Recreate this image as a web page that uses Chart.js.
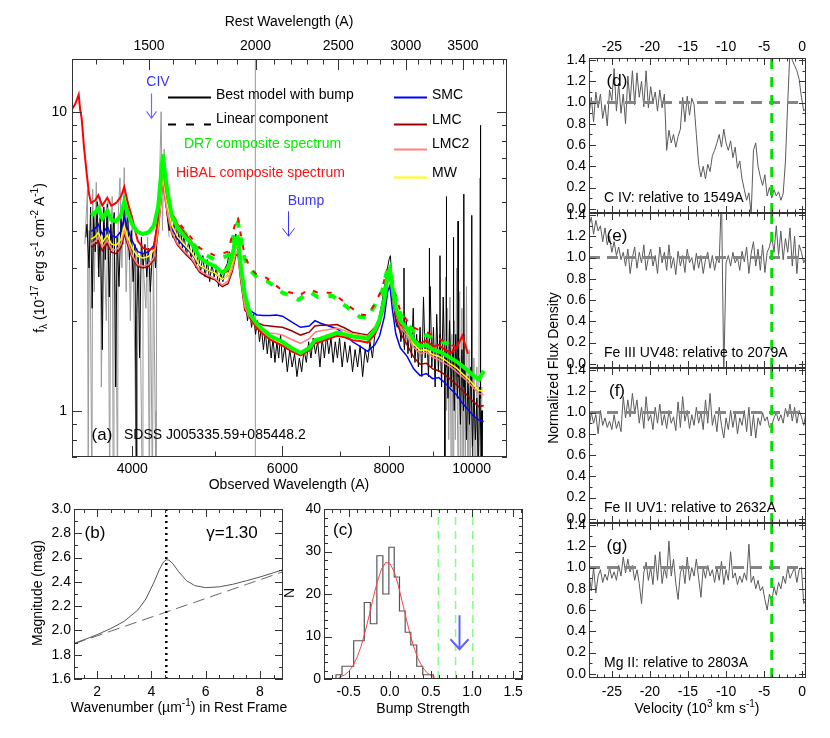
<!DOCTYPE html>
<html>
<head>
<meta charset="utf-8">
<title>SDSS J005335.59+085448.2</title>
<script src="https://cdn.jsdelivr.net/npm/chart.js@4.4.1/dist/chart.umd.min.js"></script>
<style>
  html, body { margin: 0; padding: 0; background: #fff; }
  body { position: relative; width: 830px; height: 738px; overflow: hidden; font-family: 'Liberation Sans', Arial, sans-serif; }
  canvas { position: absolute; }
  #fluxLabel { position: absolute; left: 443px; top: 360px; width: 220px; height: 16px; line-height: 16px; font-size: 14px; text-align: center; transform: rotate(-90deg); color: #000; }
</style>
</head>
<body>
<canvas id="panelA" width="540" height="500" style="left:0;top:0;width:540px;height:500px"></canvas>
<canvas id="panelB" width="290" height="248" style="left:0;top:490px;width:290px;height:248px"></canvas>
<canvas id="panelC" width="270" height="248" style="left:270px;top:490px;width:270px;height:248px"></canvas>
<canvas id="panelD" width="290" height="225" style="left:540px;top:0;width:290px;height:225px"></canvas>
<canvas id="panelE" width="290" height="180" style="left:540px;top:200px;width:290px;height:180px"></canvas>
<canvas id="panelF" width="290" height="180" style="left:540px;top:355px;width:290px;height:180px"></canvas>
<canvas id="panelG" width="290" height="228" style="left:540px;top:510px;width:290px;height:228px"></canvas>
<div id="fluxLabel">Normalized Flux Density</div>
<script>
// ---------- panel (a): spectrum ----------
const restFactor = 2.79;
const obsTicks = [4000, 6000, 8000, 10000];
const obsMinor = [5000, 7000, 9000];
const restTicks = [1500, 2000, 2500, 3000, 3500];
const restMinor = [1300, 1400, 1600, 1700, 1800, 1900, 2100, 2200, 2300, 2400, 2600, 2700, 2800, 2900, 3100, 3200, 3300, 3400, 3600, 3700, 3800, 3900];
const fluxTicks = [1, 10];
const fluxMinor = [0.7, 0.8, 0.9, 2, 3, 4, 5, 6, 7, 8, 9];

const modelWave = [
  3580, 3620, 3650, 3690, 3740, 3780, 3830, 3880, 3915, 3950,
  4000, 4060, 4120, 4180, 4240, 4290, 4320, 4345, 4370, 4400,
  4450, 4520, 4600, 4700, 4800, 4900, 5000, 5100, 5180, 5240,
  5290, 5320, 5360, 5420, 5500, 5600, 5700, 5800, 5900, 6000,
  6150, 6300, 6450, 6550, 6650, 6800, 6950, 7100, 7250, 7400,
  7550, 7700, 7800, 7900, 7970, 8020, 8070, 8150, 8250, 8400,
  8550, 8700, 8850, 9000, 9150, 9300, 9450, 9600, 9750, 9900,
  10050, 10200, 10330];
const dr7Flux = [
  4.50, 4.60, 4.75, 4.40, 4.65, 4.35, 4.30, 4.50, 5.00, 4.60,
  4.20, 3.95, 3.90, 3.95, 4.15, 4.80, 6.00, 7.20, 6.20, 5.40,
  4.50, 4.10, 3.85, 3.60, 3.25, 3.12, 3.04, 2.89, 3.00, 3.30,
  3.75, 3.80, 3.10, 2.45, 2.10, 1.95, 1.86, 1.78, 1.74, 1.70,
  1.62, 1.56, 1.62, 1.72, 1.74, 1.78, 1.82, 1.80, 1.77, 1.76,
  1.74, 1.86, 2.02, 2.35, 2.85, 2.98, 2.60, 2.20, 2.00, 1.88,
  1.72, 1.64, 1.66, 1.60, 1.58, 1.54, 1.50, 1.46, 1.41, 1.36,
  1.31, 1.27, 1.36];
const hibalFlux = [
  4.95, 5.05, 5.25, 4.85, 5.15, 4.85, 4.95, 5.20, 5.60, 5.00,
  4.40, 3.70, 3.50, 3.45, 3.50, 4.40, 5.60, 6.75, 5.80, 5.10,
  4.55, 4.20, 3.95, 3.65, 3.28, 3.13, 3.04, 2.89, 2.93, 3.22,
  3.65, 3.70, 3.02, 2.38, 2.04, 1.89, 1.80, 1.73, 1.69, 1.65,
  1.58, 1.53, 1.59, 1.68, 1.70, 1.74, 1.78, 1.76, 1.72, 1.71,
  1.69, 1.80, 1.95, 2.27, 2.75, 2.86, 2.50, 2.12, 1.94, 1.86,
  1.74, 1.68, 1.72, 1.64, 1.66, 1.60, 1.56, 1.62, 1.78, 1.55,
  null, null, null];
const hibalBlue = [[3400, 10.2], [3430, 10.6], [3462, 11.4], [3475, 10.2], [3490, 9.5], [3512, 7.6], [3540, 6.1], [3560, 5.3]];
const smcFlux = [
  3.98, 4.07, 4.20, 3.89, 4.12, 3.85, 3.80, 3.98, 4.43, 4.07,
  3.70, 3.40, 3.35, 3.40, 3.57, 4.30, 5.40, 6.50, 5.55, 4.85,
  4.10, 3.75, 3.55, 3.34, 3.05, 2.95, 2.89, 2.75, 2.83, 3.12,
  3.53, 3.58, 2.93, 2.33, 2.16, 2.09, 2.08, 2.08, 2.09, 2.07,
  1.98, 1.90, 1.92, 2.00, 1.96, 1.92, 1.88, 1.80, 1.70, 1.64,
  1.58, 1.66, 1.78, 2.06, 2.50, 2.62, 2.20, 1.80, 1.62, 1.52,
  1.38, 1.31, 1.33, 1.28, 1.29, 1.24, 1.18, 1.13, 1.06, 1.01,
  0.96, 0.93, 0.92];
const lmcFlux = [
  3.52, 3.59, 3.70, 3.43, 3.63, 3.39, 3.35, 3.51, 3.90, 3.59,
  3.25, 3.04, 3.00, 3.04, 3.20, 3.95, 4.95, 6.00, 5.15, 4.50,
  3.92, 3.58, 3.38, 3.18, 2.90, 2.80, 2.74, 2.60, 2.66, 2.92,
  3.30, 3.35, 2.74, 2.17, 2.06, 1.97, 1.93, 1.92, 1.91, 1.90,
  1.85, 1.79, 1.83, 1.92, 1.93, 1.93, 1.94, 1.89, 1.83, 1.81,
  1.79, 1.90, 1.98, 2.25, 2.72, 2.83, 2.45, 2.03, 1.82, 1.66,
  1.51, 1.43, 1.44, 1.38, 1.36, 1.32, 1.27, 1.22, 1.17, 1.12,
  1.07, 1.03, 1.04];
const lmc2Flux = [
  3.60, 3.68, 3.80, 3.52, 3.72, 3.48, 3.44, 3.60, 4.00, 3.68,
  3.30, 3.08, 3.04, 3.08, 3.24, 4.00, 5.00, 6.05, 5.20, 4.55,
  3.96, 3.62, 3.42, 3.22, 2.94, 2.84, 2.77, 2.63, 2.72, 2.98,
  3.38, 3.42, 2.80, 2.22, 2.02, 1.91, 1.86, 1.82, 1.81, 1.79,
  1.73, 1.68, 1.74, 1.83, 1.85, 1.87, 1.89, 1.85, 1.81, 1.79,
  1.77, 1.89, 2.00, 2.29, 2.77, 2.89, 2.52, 2.11, 1.91, 1.78,
  1.63, 1.55, 1.57, 1.51, 1.48, 1.44, 1.40, 1.35, 1.30, 1.25,
  1.19, 1.14, 1.13];
const mwFlux = [
  3.75, 3.82, 3.94, 3.65, 3.86, 3.61, 3.57, 3.74, 4.15, 3.82,
  3.49, 3.28, 3.24, 3.28, 3.45, 4.20, 5.30, 6.40, 5.50, 4.85,
  4.18, 3.82, 3.60, 3.37, 3.06, 2.95, 2.89, 2.75, 2.83, 3.12,
  3.53, 3.58, 2.93, 2.32, 2.06, 1.91, 1.82, 1.74, 1.71, 1.67,
  1.60, 1.57, 1.63, 1.73, 1.76, 1.80, 1.84, 1.82, 1.79, 1.78,
  1.76, 1.88, 2.00, 2.31, 2.80, 2.92, 2.55, 2.15, 1.95, 1.83,
  1.67, 1.59, 1.60, 1.54, 1.52, 1.48, 1.43, 1.39, 1.33, 1.28,
  1.22, 1.17, 1.16];

// linear (no bump) component, DR7 and HiBAL
const linWave = [
  4450, 4600, 4800, 5000, 5180, 5290, 5320, 5360, 5420, 5500,
  5600, 5750, 5900, 6000, 6150, 6270, 6450, 6600, 6870, 7100,
  7390, 7550, 7700, 7850, 7950, 8020, 8100, 8250, 8400, 8550,
  8700, 8900, 9100, 9350, 9600];
const dr7Lin = [
  4.50, 3.95, 3.40, 3.20, 3.30, 4.10, 4.25, 3.80, 3.20, 2.95,
  2.80, 2.72, 2.58, 2.48, 2.42, 2.35, 2.50, 2.40, 2.42, 2.25,
  2.06, 2.05, 2.25, 2.50, 2.90, 2.98, 2.50, 2.10, 1.95, 1.85,
  1.80, 1.78, 1.72, 1.68, 1.60];
const hibalLin = [
  4.55, 4.05, 3.50, 3.30, 3.40, 4.30, 4.45, 3.90, 3.30, 3.00,
  2.85, 2.78, 2.62, 2.52, 2.48, 2.42, 2.55, 2.48, 2.48, 2.30,
  2.10, 2.08, 2.28, 2.55, 2.95, 3.00, 2.55, 2.15, 2.00, 1.90,
  1.85, 1.82, 1.75, 1.70, 1.62];

// observed spectrum (black), [wavelength, flux]
const obsSpectrum = [
  [3530, 3.8], [3540, 4.2], [3560, 3.0], [3575, 4.8], [3590, 2.2], [3605, 4.6], [3620, 3.4], [3640, 5.0], [3655, 2.8], [3670, 4.4],
  [3690, 1.6], [3705, 4.8], [3720, 3.2], [3740, 4.9], [3760, 2.4], [3775, 4.2], [3790, 3.5], [3810, 4.6], [3825, 1.2], [3840, 3.8],
  [3860, 2.6], [3880, 4.4], [3900, 3.6], [3915, 5.2], [3930, 3.8], [3950, 4.6], [3970, 3.2], [3990, 4.0], [4010, 2.7], [4030, 3.6],
  [4045, 0.6], [4050, 2.1], [4065, 3.3], [4080, 1.5], [4100, 3.8], [4120, 3.0], [4140, 3.6], [4160, 2.8], [4180, 3.5], [4200, 2.5],
  [4220, 3.2], [4240, 3.6], [4260, 3.0], [4280, 4.0], [4300, 4.8], [4320, 6.0], [4340, 7.0], [4360, 5.8], [4380, 5.0], [4400, 4.4],
  [4420, 4.0], [4440, 4.5], [4460, 3.8], [4480, 4.3], [4500, 3.7], [4520, 4.2], [4540, 3.6], [4560, 4.1], [4580, 3.5], [4600, 3.9],
  [4630, 3.3], [4660, 3.7], [4690, 3.2], [4720, 3.6], [4750, 3.0], [4780, 3.4], [4810, 2.9], [4840, 3.3], [4870, 2.8], [4900, 3.2],
  [4930, 2.7], [4960, 3.1], [4990, 2.8], [5020, 3.0], [5050, 2.6], [5080, 2.9], [5110, 2.7], [5140, 3.0], [5170, 3.1], [5200, 3.4],
  [5230, 3.2], [5260, 3.7], [5290, 3.9], [5310, 3.5], [5340, 3.3], [5370, 2.8], [5400, 2.5], [5430, 2.3], [5460, 2.0], [5490, 2.2],
  [5520, 1.9], [5550, 2.1], [5580, 1.8], [5610, 2.0], [5640, 1.7], [5670, 1.9], [5700, 1.6], [5730, 1.85], [5760, 1.55], [5790, 1.8],
  [5820, 1.5], [5850, 1.75], [5880, 1.45], [5910, 1.7], [5940, 1.5], [5970, 1.8], [6000, 1.45], [6040, 1.65], [6080, 1.35], [6120, 1.6],
  [6160, 1.4], [6200, 1.55], [6240, 1.3], [6280, 1.5], [6320, 1.35], [6360, 1.6], [6400, 1.45], [6440, 1.7], [6480, 1.5], [6520, 1.75],
  [6560, 1.55], [6600, 1.7], [6640, 1.4], [6680, 1.75], [6720, 1.5], [6760, 1.8], [6800, 1.55], [6840, 1.75], [6880, 1.45], [6920, 1.7],
  [6960, 1.5], [7000, 1.75], [7050, 1.4], [7100, 1.7], [7150, 1.45], [7200, 1.65], [7250, 1.35], [7300, 1.6], [7350, 1.4], [7400, 1.65],
  [7450, 1.3], [7500, 1.6], [7550, 1.45], [7600, 1.7], [7650, 1.5], [7700, 1.8], [7750, 1.9], [7800, 2.1], [7850, 2.3], [7900, 2.6],
  [7950, 2.9], [8000, 3.2], [8030, 3.3], [8060, 2.8], [8100, 2.3], [8140, 2.0], [8180, 1.9], [8220, 2.1], [8260, 1.7], [8300, 1.95],
  [8340, 1.6], [8380, 2.0], [8420, 1.55], [8460, 1.9], [8500, 1.5], [8540, 2.2], [8580, 1.45], [8620, 1.8], [8660, 1.4], [8700, 1.9],
  [8740, 1.3], [8780, 2.4], [8820, 1.5], [8860, 1.8], [8900, 1.3], [8940, 2.6], [8980, 1.4], [9020, 1.9], [9060, 1.2], [9100, 2.1],
  [9140, 1.35], [9180, 1.8], [9220, 1.2], [9260, 2.4], [9300, 1.3], [9340, 1.7], [9380, 1.1], [9420, 2.0], [9460, 1.2], [9500, 1.6],
  [9540, 1.0], [9580, 1.8], [9620, 1.1], [9660, 1.5], [9700, 0.9], [9740, 1.6], [9780, 1.0], [9820, 1.4], [9860, 0.8], [9900, 1.3],
  [9940, 0.9], [9980, 1.4], [10020, 0.75], [10060, 1.2], [10100, 0.8], [10140, 1.1], [10180, 0.6], [10220, 1.2], [10260, 0.7], [10300, 1.0]];

// narrow sky residuals on the black spectrum
const skyLines = [
  [8325, 1.8], [8330, 3.0], [8335, 1.8], [8336, null],
  [8915, 1.6], [8920, 3.5], [8925, 1.6], [8926, null],
  [9175, 1.5], [9180, 3.3], [9185, 1.5], [9186, null],
  [9295, 1.4], [9300, 0.5], [9305, 1.4], [9306, null],
  [9335, 1.4], [9340, 5.2], [9345, 1.4], [9346, null],
  [9515, 1.3], [9520, 3.8], [9525, 1.3], [9526, null],
  [9635, 1.3], [9640, 4.3], [9645, 1.3], [9646, null],
  [9785, 1.2], [9790, 5.3], [9795, 1.2], [9796, null],
  [9995, 1.2], [10000, 4.5], [10005, 1.2], [10006, null],
  [10235, 1.1], [10240, 9.0], [10245, 1.1], [10246, null],
  [10275, 1.0], [10280, 0.5], [10285, 1.0]];

// second (grey) spectrum with the masked pixels
const graySpectrum = [
  [3520, 3.6], [3545, 5.5], [3552, 0.5], [3560, 4.0], [3575, 2.0], [3588, 0.5], [3595, 5.5], [3610, 2.5], [3630, 5.8], [3650, 3.0],
  [3668, 5.2], [3680, 1.2], [3700, 4.5], [3730, 2.0], [3745, 5.0], [3765, 0.5], [3772, 3.5], [3790, 5.2], [3800, 0.5], [3808, 4.0],
  [3830, 2.0], [3845, 0.5], [3852, 4.5], [3870, 6.0], [3890, 3.0], [3915, 6.5], [3935, 2.5], [3960, 5.0], [3980, 2.0], [4000, 4.5],
  [4030, 1.4], [4045, 0.5], [4050, 3.5], [4080, 2.8], [4100, 1.0], [4110, 0.5], [4118, 3.2], [4150, 2.2], [4170, 3.8], [4190, 0.5],
  [4200, 3.0], [4225, 0.5], [4235, 3.5], [4255, 1.0], [4265, 0.5], [4275, 3.8], [4300, 5.0], [4325, 10.0], [4340, 4.0], [4360, 7.5],
  [4380, 5.0], [4420, 3.8], [4421, null],
  [5577, 0.5], [5577, 20], [5578, null],
  [9300, 1.3], [9320, 2.8], [9345, 1.0], [9370, 2.2], [9400, 0.8], [9430, 2.4], [9460, 0.6], [9480, 1.8], [9520, 0.5], [9545, 2.0],
  [9570, 0.8], [9600, 3.0], [9620, 1.0], [9650, 0.5], [9680, 2.5], [9710, 0.7], [9740, 2.2], [9770, 0.5], [9800, 1.8], [9830, 0.6],
  [9860, 2.6], [9900, 0.5], [9930, 1.6], [9960, 0.5], [10000, 2.0], [10030, 0.5], [10060, 1.5], [10100, 0.5], [10140, 1.4], [10180, 0.5],
  [10220, 6.0], [10250, 0.5], [10280, 1.2]];

const civArrow = [4210, 11.5, 9.5];    // wavelength, from, to
const bumpArrow = [6090, 4.64, 3.83];

// ---------- panel (b): extinction curve ----------
const wnTicks = [2, 4, 6, 8];
const wnMinor = [1.5, 2.5, 3, 3.5, 4.5, 5, 5.5, 6.5, 7, 7.5, 8.5];
const magTicks = [1.6, 1.8, 2.0, 2.2, 2.4, 2.6, 2.8, 3.0];
const magMinor = [1.7, 1.9, 2.1, 2.3, 2.5, 2.7, 2.9];
const wavenumber = [1.15, 1.5, 2.0, 2.5, 3.0, 3.5, 3.8, 4.1, 4.3, 4.45, 4.55, 4.65, 4.8, 5.0, 5.3, 5.6, 6.0, 6.5, 7.0, 7.5, 8.0, 8.5, 8.85];
const bumpModel = [1.893, 1.922, 1.965, 2.015, 2.075, 2.168, 2.259, 2.398, 2.504, 2.564, 2.582, 2.579, 2.548, 2.485, 2.409, 2.369, 2.352, 2.359, 2.380, 2.409, 2.440, 2.475, 2.500];
const linearModel = [1.890, 1.917, 1.955, 1.994, 2.032, 2.071, 2.094, 2.117, 2.132, 2.144, 2.152, 2.159, 2.171, 2.186, 2.209, 2.232, 2.263, 2.302, 2.340, 2.379, 2.417, 2.456, 2.483];
const bumpCenter = 4.55;

// ---------- panel (c): bump strength histogram ----------
const strengthTicks = [-0.5, 0, 0.5, 1.0, 1.5];
const strengthMinor = [-0.7, -0.6, -0.4, -0.3, -0.2, -0.1, 0.1, 0.2, 0.3, 0.4, 0.6, 0.7, 0.8, 0.9, 1.1, 1.2, 1.3, 1.4, 1.6];
const countTicks = [0, 10, 20, 30, 40];
const countMinor = [2, 4, 6, 8, 12, 14, 16, 18, 22, 24, 26, 28, 32, 34, 36, 38];
const binEdges = [-0.654, -0.581, -0.439, -0.310, -0.237, -0.157, -0.084, -0.011, 0.054, 0.118, 0.187, 0.256, 0.328, 0.401, 0.530];
const binCounts = [1, 3, 9, 18, 13, 29, 20, 31, 24, 16, 11, 8, 3, 1];
const gaussX = [-0.62, -0.55, -0.5, -0.45, -0.4, -0.35, -0.3, -0.25, -0.2, -0.15, -0.1, -0.05, 0, 0.05, 0.1, 0.15, 0.2, 0.25, 0.3, 0.35, 0.4, 0.45, 0.5, 0.55];
const gaussY = [0.35, 0.94, 1.74, 3.05, 4.98, 7.65, 11.06, 15.0, 19.2, 23.0, 25.9, 27.4, 27.2, 25.4, 22.3, 18.3, 14.2, 10.3, 7.05, 4.5, 2.7, 1.54, 0.82, 0.41];
const measuredBump = [0.59, 0.80, 1.01];
const bumpMark = [0.845, 15, 7];

// ---------- panels (d)-(g): absorption profiles ----------
const velTicks = [-25, -20, -15, -10, -5, 0];
const velMinor = [-28, -27, -26, -24, -23, -22, -21, -19, -18, -17, -16, -14, -13, -12, -11, -9, -8, -7, -6, -4, -3, -2, -1];
const normTicks = [0, 0.2, 0.4, 0.6, 0.8, 1.0, 1.2, 1.4];
const normMinor = [0.1, 0.3, 0.5, 0.7, 0.9, 1.1, 1.3];
const absorberVel = -4.0;
const vel = [
  -28.0, -27.7, -27.4, -27.1, -26.8, -26.5, -26.2, -25.9, -25.6, -25.3,
  -25.0, -24.7, -24.4, -24.1, -23.8, -23.5, -23.2, -22.9, -22.6, -22.3,
  -22.0, -21.7, -21.4, -21.1, -20.8, -20.5, -20.2, -19.9, -19.6, -19.3,
  -19.0, -18.7, -18.4, -18.1, -17.8, -17.5, -17.2, -16.9, -16.6, -16.3,
  -16.0, -15.7, -15.4, -15.1, -14.8, -14.5, -14.2, -13.9, -13.6, -13.3,
  -13.0, -12.7, -12.4, -12.1, -11.8, -11.5, -11.2, -10.9, -10.6, -10.3,
  -10.0, -9.7, -9.4, -9.1, -8.8, -8.5, -8.2, -7.9, -7.6, -7.3,
  -7.0, -6.7, -6.4, -6.1, -5.8, -5.5, -5.2, -4.9, -4.6, -4.3,
  -4.0, -3.7, -3.4, -3.1, -2.8, -2.5, -2.2, -1.9, -1.6, -1.3,
  -1.0, -0.7, -0.4, -0.1, 0.2, 0.5];
const civFlux = [
  0.88, 1.05, 0.82, 1.10, 0.95, 1.08, 0.85, 0.98, 0.78, 1.12,
  1.02, 1.32, 0.92, 1.18, 0.90, 1.08, 0.80, 1.25, 1.00, 1.30,
  0.98, 1.28, 1.05, 1.20, 0.96, 1.30, 0.95, 1.15, 1.00, 1.10,
  0.92, 1.12, 0.95, 1.08, 0.55, 0.74, 0.62, 0.70, 0.58, 0.68,
  0.75, 1.05, 0.82, 1.06, 0.88, 1.04, 0.98, 0.70, 0.42, 0.30,
  0.40, 0.28, 0.42, 0.35, 0.50, 0.55, 0.62, 0.70, 0.58, 0.75,
  0.62, 0.55, 0.64, 0.48, 0.58, 0.38, 0.45, 0.28, 0.18, 0.08,
  0.15, -0.05, 0.55, 0.62, 0.40, 0.30, 0.22, 0.32, 0.12, 0.20,
  0.10, 0.18, 0.12, 0.16, 0.08, 0.14, 0.45, 1.00, 1.50, 1.40,
  1.35, 1.30, 1.22, 1.05, 0.92, 0.95];
const fe3Flux = [
  1.30, 1.38, 1.22, 1.35, 1.25, 1.30, 1.15, 1.28, 1.12, 1.20,
  1.05, 1.15, 1.02, 1.10, 0.98, 1.05, 0.92, 1.08, 0.85, 1.00,
  1.10, 0.90, 1.05, 0.95, 1.12, 0.88, 1.00, 1.08, 0.92, 1.02,
  0.85, 1.10, 0.95, 1.05, 0.88, 1.12, 0.90, 1.00, 0.84, 1.06,
  0.92, 1.02, 0.86, 1.08, 0.95, 1.00, 0.88, 1.04, 0.90, 1.02,
  0.85, 0.98, 1.05, 0.90, 1.02, 0.88, 1.00, 0.95, 1.60, -0.10,
  0.95, 1.02, 0.92, 1.05, 0.95, 1.00, 0.88, 1.06, 0.96, 1.10,
  0.85, 1.04, 1.15, 0.92, 1.08, 0.88, 1.12, 0.86, 1.05, 1.10,
  1.20, 1.05, 1.30, 1.02, 1.25, 0.98, 1.18, 1.05, 1.28, 0.92,
  1.20, 0.85, 1.12, 1.05, 0.95, 1.00];
const fe2Flux = [
  0.85, 1.00, 0.90, 0.98, 0.80, 1.02, 0.88, 0.95, 0.86, 0.92,
  0.84, 0.98, 0.85, 0.92, 0.82, 1.15, 0.95, 1.12, 0.96, 1.18,
  1.00, 1.12, 0.90, 1.05, 0.85, 1.15, 0.92, 0.98, 0.84, 1.05,
  0.90, 1.08, 0.88, 0.98, 0.85, 1.02, 0.90, 0.96, 0.83, 1.10,
  0.86, 1.15, 0.92, 1.02, 0.85, 0.98, 0.88, 1.05, 0.90, 1.00,
  0.84, 1.12, 0.90, 1.18, 0.88, 0.98, 0.82, 1.05, 0.88, 0.76,
  0.95, 0.84, 1.02, 0.86, 1.00, 0.80, 0.95, 0.88, 1.02, 0.82,
  1.05, 0.78, 0.98, 0.76, 0.95, 0.88, 1.00, 0.92, 0.96, 0.86,
  0.88, 0.95, 1.00, 0.92, 0.98, 0.90, 1.04, 0.96, 1.08, 0.92,
  1.05, 0.90, 1.02, 0.96, 0.88, 1.00];
const mg2Flux = [
  0.95, 0.78, 1.00, 0.76, 0.92, 0.98, 0.86, 0.94, 0.88, 1.00,
  0.90, 0.96, 0.88, 1.02, 0.92, 1.10, 0.95, 1.08, 0.96, 1.02,
  0.88, 0.98, 0.85, 0.66, 0.95, 1.05, 0.88, 1.00, 0.84, 1.12,
  0.88, 1.15, 0.85, 1.00, 0.90, 1.25, 0.92, 1.08, 0.85, 0.70,
  0.95, 1.02, 0.85, 1.10, 0.88, 1.00, 0.92, 1.08, 0.90, 0.72,
  1.00, 0.90, 1.02, 0.92, 0.98, 0.86, 1.00, 0.88, 1.06, 0.84,
  0.98, 0.88, 1.15, 0.90, 0.95, 0.84, 0.92, 0.86, 0.95, 0.88,
  1.22, 0.86, 0.92, 0.80, 0.88, 0.78, 0.82, 0.70, 0.60, 0.75,
  0.68, 0.82, 0.74, 0.86, 0.80, 0.92, 0.85, 1.00, 0.90, 0.95,
  1.00, 0.86, 0.98, 1.00, 0.66, 0.70];

// ---------- helpers ----------
const FONT = "'Liberation Sans', Arial, Helvetica, sans-serif";
Chart.defaults.font.family = FONT;
Chart.defaults.font.size = 14;
Chart.defaults.color = '#000';
Chart.defaults.animation = false;
Chart.defaults.events = [];
Chart.defaults.responsive = false;
Chart.defaults.plugins.legend.display = false;
Chart.defaults.plugins.tooltip.enabled = false;

const pts = (xs, ys) => xs.map((x, i) => [x, ys[i]]);

function line(data, color, width, dash) {
  return { data, borderColor: color, borderWidth: width, borderDash: dash || [], pointRadius: 0, fill: false, tension: 0 };
}

function axis(type, pos, min, max, ticks, size, fmt, pad) {
  return {
    type, position: pos, min, max, bounds: 'data',
    grid: { display: false, drawTicks: false }, border: { display: false },
    ticks: { display: !!fmt, autoSkip: false, maxRotation: 0, minRotation: 0, padding: pad || 4, color: '#000',
             font: { size: 14 }, callback: fmt || (() => '') },
    afterBuildTicks: s => { s.ticks = ticks.map(v => ({ value: v })); },
    afterFit: s => { if (pos === 'left' || pos === 'right') s.width = size; else s.height = size; }
  };
}

function label(ctx, s, x, y, o) {
  o = o || {};
  ctx.save();
  ctx.font = (o.size || 14) + 'px ' + FONT;
  ctx.fillStyle = o.color || '#000';
  ctx.textAlign = o.align || 'center';
  ctx.textBaseline = 'middle';
  if (o.rotate) { ctx.translate(x, y); ctx.rotate(o.rotate); ctx.fillText(s, 0, 0); }
  else ctx.fillText(s, x, y);
  ctx.restore();
}

// text with super/subscripts, centred on (x, y)
function rich(ctx, parts, x, y, size, angle) {
  ctx.save();
  ctx.translate(x, y);
  ctx.rotate(angle || 0);
  ctx.fillStyle = '#000';
  ctx.textBaseline = 'middle';
  ctx.textAlign = 'left';
  const fontOf = p => (p[1] ? Math.round(size * 0.7) : size) + 'px ' + FONT;
  let w = 0;
  parts.forEach(p => { ctx.font = fontOf(p); w += ctx.measureText(p[0]).width; });
  let cx = -w / 2;
  parts.forEach(p => {
    ctx.font = fontOf(p);
    const dy = p[1] === 'sup' ? -size * 0.35 : p[1] === 'sub' ? size * 0.3 : 0;
    ctx.fillText(p[0], cx, dy);
    cx += ctx.measureText(p[0]).width;
  });
  ctx.restore();
}

function arrow(ctx, x, y0, y1, hw, hh, color, width) {
  ctx.save();
  ctx.strokeStyle = color;
  ctx.lineWidth = width;
  ctx.beginPath();
  ctx.moveTo(x, y0); ctx.lineTo(x, y1);
  ctx.moveTo(x - hw, y1 - hh); ctx.lineTo(x, y1); ctx.lineTo(x + hw, y1 - hh);
  ctx.stroke();
  ctx.restore();
}

function seg(ctx, x0, x1, y, color, width, dash) {
  ctx.save();
  ctx.strokeStyle = color; ctx.lineWidth = width; ctx.setLineDash(dash || []);
  ctx.beginPath(); ctx.moveTo(x0, y); ctx.lineTo(x1, y); ctx.stroke();
  ctx.restore();
}

// IDL-like box with inward ticks, then any extra drawing
function frame(marks, draw) {
  return {
    id: 'frame',
    afterDraw(chart) {
      const { ctx, chartArea: a } = chart;
      ctx.save();
      ctx.strokeStyle = '#333';
      ctx.lineWidth = 1;
      ctx.beginPath();
      marks.forEach(m => {
        const sc = chart.scales[m.axis];
        [[m.major, m.len], [m.minor, m.len / 2]].forEach(([vals, len]) => {
          vals.forEach(v => {
            const p = Math.round(sc.getPixelForValue(v)) + 0.5;
            m.edges.forEach(e => {
              if (e === 'bottom') { ctx.moveTo(p, a.bottom); ctx.lineTo(p, a.bottom - len); }
              if (e === 'top') { ctx.moveTo(p, a.top); ctx.lineTo(p, a.top + len); }
              if (e === 'left') { ctx.moveTo(a.left, p); ctx.lineTo(a.left + len, p); }
              if (e === 'right') { ctx.moveTo(a.right, p); ctx.lineTo(a.right - len, p); }
            });
          });
        });
      });
      ctx.stroke();
      ctx.strokeRect(Math.round(a.left) + 0.5, Math.round(a.top) + 0.5, Math.round(a.width) - 1, Math.round(a.height) - 1);
      ctx.restore();
      if (draw) draw(chart, ctx, a);
    }
  };
}

// ---------- (a) ----------
const hibalData = hibalBlue.concat(pts(modelWave, hibalFlux));
new Chart(document.getElementById('panelA'), {
  type: 'line',
  data: { datasets: [
    line(pts(modelWave, dr7Flux), '#00ff00', 4),
    line(hibalData, '#ff0000', 2),
    line(pts(modelWave, mwFlux), '#ffff00', 1.5),
    line(pts(modelWave, lmc2Flux), '#ff8080', 1.5),
    line(pts(modelWave, lmcFlux), '#990000', 1.5),
    line(pts(modelWave, smcFlux), '#0000ff', 1.5),
    line(pts(linWave, hibalLin), '#ff0000', 2, [5, 9]),
    line(pts(linWave, dr7Lin), '#00ff00', 4, [8, 10]),
    line(skyLines, '#000', 1),
    line(obsSpectrum, '#000', 1),
    line(graySpectrum, '#9a9a9a', 1)
  ]},
  options: {
    layout: { padding: { right: 33 } },
    scales: {
      x: axis('logarithmic', 'bottom', 3400, 11000, obsTicks, 43, v => String(v), 4),
      x2: axis('logarithmic', 'top', 3400 / restFactor, 11000 / restFactor, restTicks, 59, v => String(v), 4),
      y: axis('logarithmic', 'left', 0.7, 15, fluxTicks, 72, v => String(v), 5)
    }
  },
  plugins: [frame([
    { axis: 'x', edges: ['bottom'], major: obsTicks, minor: obsMinor, len: 11 },
    { axis: 'x2', edges: ['top'], major: restTicks, minor: restMinor, len: 11 },
    { axis: 'y', edges: ['left', 'right'], major: fluxTicks, minor: fluxMinor, len: 10 }
  ], (chart, ctx) => {
    const sx = chart.scales.x, sy = chart.scales.y;
    label(ctx, 'Rest Wavelength (A)', 289, 22);
    label(ctx, 'Observed Wavelength (A)', 289, 485);
    rich(ctx, [['f'], ['\u03bb', 'sub'], [' (10'], ['-17', 'sup'], [' erg s'], ['-1', 'sup'], [' cm'], ['-2', 'sup'], [' A'], ['-1', 'sup'], [')']], 40, 258, 14, -Math.PI / 2);
    seg(ctx, 168, 211, 97.5, '#000', 2);
    label(ctx, 'Best model with bump', 216, 95, { align: 'left' });
    seg(ctx, 168, 211, 124.5, '#000', 2, [8, 10]);
    label(ctx, 'Linear component', 216, 119, { align: 'left' });
    label(ctx, 'DR7 composite spectrum', 184, 144, { align: 'left', color: '#00ee00' });
    label(ctx, 'HiBAL composite spectrum', 176, 173, { align: 'left', color: '#ff1010' });
    [['SMC', '#0000ff', 97.5, 95], ['LMC', '#990000', 124.5, 120], ['LMC2', '#ff8080', 149.5, 144], ['MW', '#ffff00', 177.5, 173]]
      .forEach(([name, color, ly, ty]) => {
        seg(ctx, 394, 427, ly, color, 2);
        label(ctx, name, 432, ty, { align: 'left' });
      });
    const cx = Math.round(sx.getPixelForValue(civArrow[0])) + 0.5;
    arrow(ctx, cx, sy.getPixelForValue(civArrow[1]), sy.getPixelForValue(civArrow[2]), 5, 7, '#6a6aff', 1.2);
    label(ctx, 'CIV', 158, 82, { color: '#3535ff' });
    const bx = Math.round(sx.getPixelForValue(bumpArrow[0])) + 0.5;
    arrow(ctx, bx, sy.getPixelForValue(bumpArrow[1]), sy.getPixelForValue(bumpArrow[2]), 6, 8, '#3535ff', 1);
    label(ctx, 'Bump', 306, 201, { color: '#3535ff' });
    label(ctx, '(a)', 102, 435, { size: 17 });
    label(ctx, 'SDSS J005335.59+085448.2', 124, 435, { align: 'left' });
  })]
});

// ---------- (b) ----------
new Chart(document.getElementById('panelB'), {
  type: 'line',
  data: { datasets: [
    line([[bumpCenter, 1.6], [bumpCenter, 3.0]], '#000', 2.5, [2, 4]),
    line(pts(wavenumber, bumpModel), '#555', 1),
    line(pts(wavenumber, linearModel), '#666', 1, [12, 6])
  ]},
  options: {
    layout: { padding: { top: 19, right: 7 } },
    scales: {
      x: axis('linear', 'bottom', 1.15, 8.85, wnTicks, 59, v => String(v), 5),
      y: axis('linear', 'left', 1.6, 3.0, magTicks, 74, v => v.toFixed(1), 3)
    }
  },
  plugins: [frame([
    { axis: 'x', edges: ['bottom', 'top'], major: wnTicks, minor: wnMinor, len: 8 },
    { axis: 'y', edges: ['left', 'right'], major: magTicks, minor: magMinor, len: 8 }
  ], (chart, ctx) => {
    label(ctx, '(b)', 95, 43, { size: 17 });
    label(ctx, '\u03b3=1.30', 232, 43, { size: 17 });
    label(ctx, 'Magnitude (mag)', 38, 103, { rotate: -Math.PI / 2 });
    rich(ctx, [['Wavenumber (\u00b5m'], ['-1', 'sup'], [') in Rest Frame']], 179, 218, 14);
  })]
});

// ---------- (c) ----------
const histData = [[binEdges[0], 0]]
  .concat(binCounts.map((c, i) => [binEdges[i], c]))
  .concat([[binEdges[binEdges.length - 1], 0]]);
const histSet = line(histData, '#555', 1.2);
histSet.stepped = 'before';
new Chart(document.getElementById('panelC'), {
  type: 'line',
  data: { datasets: [
    line(pts(gaussX, gaussY), '#ff4040', 1),
    histSet
  ].concat(measuredBump.map(b => line([[b, 0], [b, 40]], '#80ff80', 1.5, [8, 6]))) },
  options: {
    layout: { padding: { top: 19, right: 17 } },
    scales: {
      x: axis('linear', 'bottom', -0.8, 1.62, strengthTicks, 59, v => v.toFixed(1), 5),
      y: axis('linear', 'left', 0, 40, countTicks, 54, v => String(v), 3)
    }
  },
  plugins: [frame([
    { axis: 'x', edges: ['bottom', 'top'], major: strengthTicks, minor: strengthMinor, len: 8 },
    { axis: 'y', edges: ['left', 'right'], major: countTicks, minor: countMinor, len: 8 }
  ], (chart, ctx) => {
    const sx = chart.scales.x, sy = chart.scales.y;
    const ax = Math.round(sx.getPixelForValue(bumpMark[0])) + 0.5;
    arrow(ctx, ax, sy.getPixelForValue(bumpMark[1]), sy.getPixelForValue(bumpMark[2]), 9, 10, '#6060ff', 2);
    label(ctx, '(c)', 73, 40, { size: 17 });
    label(ctx, 'N', 20, 103, { rotate: -Math.PI / 2 });
    label(ctx, 'Bump Strength', 153, 219);
  })]
});

// ---------- (d)-(g) ----------
function velPanel(id, flux, tag, name, where, pads) {
  const xPos = where === 'top' ? 'top' : 'bottom';
  const xSize = where === 'top' ? 58 : where === 'bottom' ? 60 : 0;
  const fmt = where ? v => String(v) : null;
  new Chart(document.getElementById(id), {
    type: 'line',
    data: { datasets: [
      line([[absorberVel, -0.04], [absorberVel, 1.42]], '#00e000', 3, [10, 8]),
      line([[vel[0], 1], [vel[vel.length - 1], 1]], '#858585', 3, [11, 7]),
      line(pts(vel, flux), '#5a5a5a', 1)
    ]},
    options: {
      layout: { padding: { top: pads[0], bottom: pads[1], right: 24 } },
      scales: {
        x: axis('linear', xPos, -28, 0.5, velTicks, xSize, fmt, where === 'top' ? 2 : 6),
        y: axis('linear', 'left', -0.04, 1.42, normTicks, 49, v => v.toFixed(1), 3)
      }
    },
    plugins: [frame([
      { axis: 'x', edges: ['bottom', 'top'], major: velTicks, minor: velMinor, len: 7 },
      { axis: 'y', edges: ['left', 'right'], major: normTicks, minor: normMinor, len: 7 }
    ], (chart, ctx, a) => {
      label(ctx, tag, 77, a.top + 23, { size: 17 });
      label(ctx, name, 64, a.top + 140, { align: 'left' });
      if (where === 'bottom') rich(ctx, [['Velocity (10'], ['3', 'sup'], [' km s'], ['-1', 'sup'], [')']], 157, a.bottom + 31, 14);
    })]
  });
}
velPanel('panelD', civFlux, '(d)', 'C IV: relative to 1549A', 'top', [0, 12]);
velPanel('panelE', fe3Flux, '(e)', 'Fe III UV48: relative to 2079A', null, [13, 12]);
velPanel('panelF', fe2Flux, '(f)', 'Fe II UV1: relative to 2632A', null, [13, 12]);
velPanel('panelG', mg2Flux, '(g)', 'Mg II: relative to 2803A', 'bottom', [13, 0]);
</script>
</body>
</html>
